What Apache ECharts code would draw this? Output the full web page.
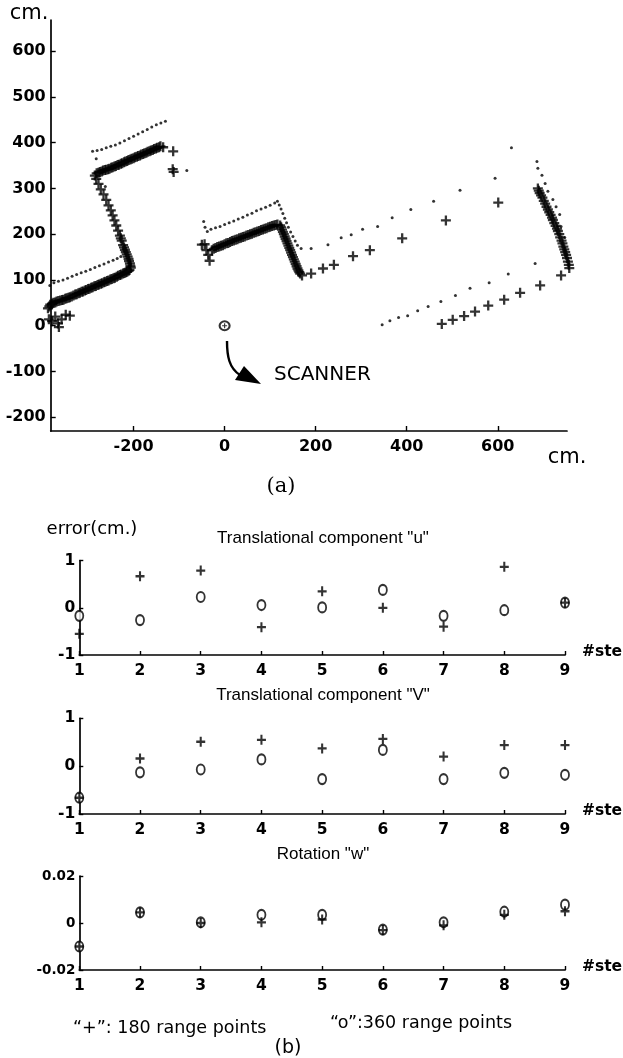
<!DOCTYPE html>
<html><head><meta charset="utf-8">
<script src="https://cdn.jsdelivr.net/npm/echarts@6/dist/echarts.min.js"></script>
<style>html,body{margin:0;padding:0;background:#fff}#c{width:623px;height:1058px}</style>
</head><body><div id="c"></div>
<script>
// ---------- (a) scan data, cm ----------
// "+" scan (180 range points)
const plusWallA = [[-388,38],[-385,42],[-383,46],[-379,48],[-376,50],[-372,51],[-369,53],[-365,54],[-361,55],[-357,56],[-354,57],[-350,59],[-347,60],[-343,61],[-340,62],[-336,64],[-332,66],[-328,68],[-325,69],[-321,71],[-318,72],[-314,74],[-311,75],[-307,77],[-304,78],[-300,80],[-297,81],[-293,83],[-290,84],[-286,86],[-283,87],[-279,89],[-276,90],[-272,92],[-269,93],[-265,95],[-262,96],[-258,98],[-255,99],[-251,101],[-248,102],[-244,104],[-241,105],[-237,107],[-234,109],[-230,111],[-227,112],[-223,114],[-220,115],[-217,117],[-214,118],[-211,120],[-209,122],[-206,127]];
const plusCluster = [[-386,14],[-379,10],[-372,20],[-366,5],[-364,-3],[-358,14],[-349,24],[-340,22]];
const plusWallB = [[-207,131],[-208,136],[-210,141],[-211,146],[-213,151],[-215,156],[-217,161],[-219,166],[-221,171],[-223,176],[-226,186],[-228,191],[-230,197],[-234,208],[-238,219],[-242,230],[-246,241],[-250,252],[-255,263],[-260,275],[-266,287],[-272,298],[-277,310],[-282,321],[-285,328]];
const plusWallC = [[-281,333],[-277,334],[-274,336],[-270,337],[-267,339],[-263,340],[-260,341],[-256,342],[-253,343],[-249,345],[-246,346],[-242,348],[-239,349],[-235,351],[-232,352],[-228,354],[-225,355],[-221,357],[-218,359],[-214,360],[-211,362],[-207,363],[-204,365],[-200,366],[-197,368],[-193,369],[-190,371],[-186,372],[-183,374],[-179,375],[-176,377],[-172,378],[-169,380],[-165,381],[-162,383],[-158,384],[-155,386],[-151,387],[-148,389],[-144,390],[-141,392],[-135,390],[-113,381],[-114,342],[-112,336]];
const plusWallD = [[-50,177],[-44,178],[-40,165],[-36,155],[-33,142],[-28,165],[-24,168],[-20,170],[-16,172],[-12,173],[-8,175],[-4,176],[0,178],[4,180],[8,181],[12,183],[16,185],[20,186],[24,188],[28,189],[32,191],[36,192],[40,194],[44,195],[48,197],[52,198],[56,200],[60,201],[64,203],[68,204],[72,206],[76,207],[80,209],[84,210],[88,212],[92,213],[96,215],[100,216],[104,218],[108,219],[112,220],[116,221],[122,219]];
const plusWallE = [[124,215],[126,210],[128,205],[130,200],[132,195],[134,190],[136,185],[138,180],[140,175],[142,170],[144,165],[146,160],[148,155],[150,150],[152,145],[154,140],[156,135],[158,130],[160,125],[162,121],[164,117],[166,114],[170,110]];
const plusCorridor = [[190,114],[216,125],[240,133],[282,152],[319,165],[390,191],[486,230],[601,269]];
const plusRightWall = [[688,300],[690,295],[692,290],[695,285],[698,280],[701,273],[704,267],[707,260],[710,254],[713,248],[716,242],[719,236],[721,231],[724,224],[727,218],[730,212],[732,207],[735,200],[737,193],[740,186],[742,180],[744,173],[746,167],[748,161],[750,155],[752,148],[754,140],[756,133],[757,126],[739,110]];
const plusLower = [[477,4],[501,13],[526,21],[550,31],[579,44],[614,57],[649,72],[693,88]];
// dot scan
const dotWallA = [[-384,88],[-375,94],[-365,97],[-355,100],[-345,104],[-335,108],[-325,112],[-315,116],[-305,119],[-295,123],[-285,127],[-275,131],[-265,135],[-255,139],[-245,143],[-236,147],[-228,151],[-262,304],[-282,365]];
const dotWallC = [[-290,381],[-280,383],[-270,385],[-260,389],[-250,392],[-240,395],[-230,399],[-220,404],[-210,409],[-200,414],[-190,419],[-180,424],[-170,429],[-160,434],[-150,439],[-140,443],[-130,447],[-83,339]];
const dotWallD = [[-46,228],[-43,215],[-38,206],[-30,211],[-20,214],[-10,217],[0,221],[10,225],[20,229],[30,233],[40,237],[50,242],[60,246],[70,251],[80,255],[90,259],[100,263],[110,268],[116,272],[120,264],[124,255],[128,245],[132,235],[136,225],[140,215],[145,205],[150,195],[155,185],[160,176],[168,169]];
const dotCorridor = [[190,169],[227,177],[256,192],[278,199],[303,211],[336,217],[368,236],[409,254],[459,272],[517,296],[594,322],[630,389]];
const dotRightWall = [[686,359],[688,344],[697,329],[704,311],[710,294],[721,276],[728,260],[736,243],[739,217],[747,193]];
const dotLower = [[346,2],[363,11],[382,18],[402,22],[424,33],[447,42],[475,53],[507,66],[539,82],[581,94],[623,113],[682,136]];
const scanner = [[0,0]];
const ticksAX = [-200,0,200,400,600];
const ticksAY = [-200,-100,0,100,200,300,400,500,600];

// ---------- (b) error data ----------
const steps = [1,2,3,4,5,6,7,8,9];
const uPlus   = [-0.55, 0.67, 0.79, -0.41, 0.35, 0.00, -0.40, 0.87, 0.11];
const uCircle = [-0.17, -0.26, 0.23, 0.06, 0.01, 0.38, -0.17, -0.05, 0.11];
const vPlus   = [-0.66, 0.16, 0.51, 0.55, 0.37, 0.57, 0.20, 0.44, 0.44];
const vCircle = [-0.66, -0.13, -0.07, 0.14, -0.27, 0.34, -0.27, -0.14, -0.18];
const wPlus   = [-0.010, 0.0045, 0.0, 0.0003, 0.0015, -0.003, -0.001, 0.0035, 0.005];
const wCircle = [-0.010, 0.0045, 0.0003, 0.0035, 0.0035, -0.0028, 0.0003, 0.0048, 0.0078];

const PLUS = 'path://M3.85,0H6.15V3.85H10V6.15H6.15V10H3.85V6.15H0V3.85H3.85Z';
const SANS = '"DejaVu Sans", sans-serif';
const BLACK = '#000';

const chart = echarts.init(document.getElementById('c'), null, {renderer:'canvas'});

function lab(size, margin, extra){
  return Object.assign({color:BLACK, fontFamily:SANS, fontWeight:'bold', fontSize:size, margin:margin}, extra||{});
}
function axisBase(extra){
  return Object.assign({
    type:'value',
    axisLine:{show:true, onZero:false, lineStyle:{color:BLACK, width:1.7}},
    axisTick:{show:true, inside:true, length:4, lineStyle:{color:BLACK, width:1.4}},
    splitLine:{show:false},
    axisLabel:lab(15.5, 5)
  }, extra);
}

const xAxes = [
  axisBase({gridIndex:0, min:-382, max:752,
    axisTick:{show:true, inside:true, length:5, customValues:ticksAX, lineStyle:{color:BLACK, width:1.4}},
    axisLabel:lab(16, 8, {customValues:ticksAX})}),
];
const yAxes = [
  axisBase({gridIndex:0, min:-230, max:668,
    axisTick:{show:true, inside:true, length:5, customValues:ticksAY, lineStyle:{color:BLACK, width:1.4}},
    axisLabel:lab(16, 5, {customValues:ticksAY})}),
];
[1,2,3].forEach(function(g){
  xAxes.push(axisBase({gridIndex:g, min:1, max:9, interval:1, axisLabel:lab(15.5, 8)}));
});
yAxes.push(axisBase({gridIndex:1, min:-1, max:1, interval:1, axisLabel:lab(15.5, 4)}));
yAxes.push(axisBase({gridIndex:2, min:-1, max:1, interval:1, axisLabel:lab(15.5, 4)}));
yAxes.push(axisBase({gridIndex:3, min:-0.02, max:0.02, interval:0.02, axisLabel:lab(13.5, 4)}));

function pairs(ys){ return steps.map(function(s,i){ return [s, ys[i]]; }); }
function circleSeries(idx, ys){
  return {type:'scatter', xAxisIndex:idx, yAxisIndex:idx, data:pairs(ys), clip:false,
    symbol:'emptyCircle', symbolSize:[8,10], itemStyle:{color:BLACK, borderColor:BLACK, borderWidth:2}, z:3};
}
function plusSeries(idx, ys){
  return {type:'scatter', xAxisIndex:idx, yAxisIndex:idx, data:pairs(ys), clip:false,
    symbol:PLUS, symbolSize:[9,10], itemStyle:{color:BLACK}, z:4};
}

const plusAll = [].concat(plusWallA, plusCluster, plusWallB, plusWallC, plusWallD, plusWallE, plusCorridor, plusRightWall, plusLower);
const dotAll = [].concat(dotWallA, dotWallC, dotWallD, dotCorridor, dotRightWall, dotLower);

function txt(t, x, y, size, opts){
  opts = opts || {};
  return {type:'text', x:x, y:y, z:100, style:{text:t, fill:BLACK,
    font:(opts.weight||'normal')+' '+size+'px '+(opts.family||SANS),
    textAlign:opts.align||'center', textVerticalAlign:'middle',
    align:opts.align||'center', verticalAlign:'middle'}};
}

const option = {
  animation:false,
  backgroundColor:'#fff',
  grid:[
    {left:50.7, top:20, width:516.3, height:411},
    {left:79.3, top:560.7, width:485.7, height:94.3},
    {left:79.3, top:718.3, width:485.7, height:95.7},
    {left:79.3, top:876, width:485.7, height:94}
  ],
  xAxis:xAxes,
  yAxis:yAxes,
  series:[
    {type:'scatter', xAxisIndex:0, yAxisIndex:0, data:dotAll, clip:false, symbol:'circle', symbolSize:3, itemStyle:{color:BLACK}},
    {type:'scatter', xAxisIndex:0, yAxisIndex:0, data:plusAll, clip:false, symbol:PLUS, symbolSize:10, itemStyle:{color:BLACK}},
    {type:'scatter', xAxisIndex:0, yAxisIndex:0, data:scanner, clip:false, symbol:'emptyCircle', symbolSize:[10,9], itemStyle:{color:BLACK, borderColor:BLACK, borderWidth:2.2}},
    {type:'scatter', xAxisIndex:0, yAxisIndex:0, data:scanner, clip:false, symbol:PLUS, symbolSize:5, itemStyle:{color:BLACK}, z:5},
    circleSeries(1, uCircle), plusSeries(1, uPlus),
    circleSeries(2, vCircle), plusSeries(2, vPlus),
    circleSeries(3, wCircle), plusSeries(3, wPlus)
  ],
  graphic:[
    txt('cm.', 29, 14, 21),
    txt('cm.', 567, 458, 21),
    txt('SCANNER', 274, 375, 20, {align:'left'}),
    {type:'bezierCurve', z:100, shape:{x1:227, y1:341, cpx1:227, cpy1:356, cpx2:229, cpy2:368, x2:240, y2:375}, style:{stroke:BLACK, lineWidth:2.4, fill:null}},
    {type:'polygon', z:100, shape:{points:[[261,384],[244,366],[235,380]]}, style:{fill:BLACK}},
    txt('(a)', 281, 487, 21, {family:'"DejaVu Serif", serif'}),
    txt('error(cm.)', 92, 529, 18),
    txt('Translational component "u"', 323, 538, 17, {family:'"Liberation Sans", sans-serif'}),
    txt('#ste', 582, 652, 15.5, {align:'left', weight:'bold'}),
    txt('Translational component "V"', 323, 695, 17, {family:'"Liberation Sans", sans-serif'}),
    txt('#ste', 582, 811, 15.5, {align:'left', weight:'bold'}),
    txt('Rotation "w"', 323, 854, 17, {family:'"Liberation Sans", sans-serif'}),
    txt('#ste', 582, 967, 15.5, {align:'left', weight:'bold'}),
    txt('\u201c+\u201d: 180 range points', 73, 1028, 17.5, {align:'left'}),
    txt('\u201co\u201d:360 range points', 330, 1023, 17.5, {align:'left'}),
    txt('(b)', 288, 1048, 19)
  ]
};
chart.setOption(option);
</script></body></html>
